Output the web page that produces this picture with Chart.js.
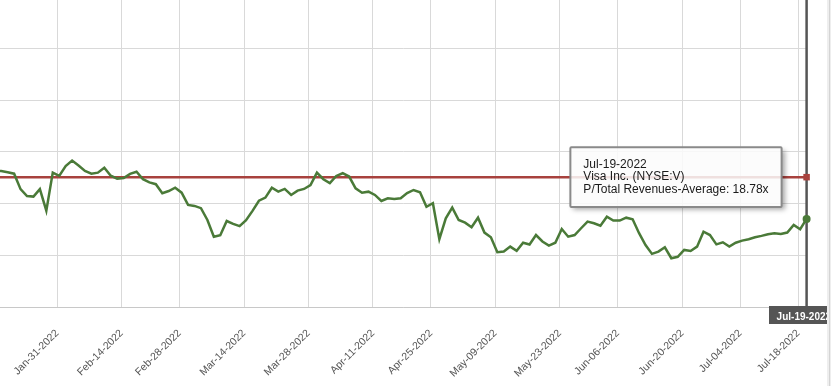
<!DOCTYPE html>
<html><head><meta charset="utf-8">
<script src="https://cdn.jsdelivr.net/npm/chart.js@4"></script>
<style>
html,body{margin:0;padding:0;background:#fff;overflow:hidden;}
#wrap{position:absolute;left:0;top:0;width:827px;height:386px;}
#sb{position:absolute;left:827px;top:0;width:4px;height:386px;background:#eeeeee;}
#sb2{position:absolute;left:829px;top:0;width:1px;height:386px;background:#d4d4d4;}
</style></head><body>
<div id="wrap"><canvas id="c"></canvas></div><div id="sb"></div><div id="sb2"></div>
<script>
// Tick labels (dates) and the trading-day index where each sits
const tickLabels = ['Jan-31-2022','Feb-14-2022','Feb-28-2022','Mar-14-2022','Mar-28-2022','Apr-11-2022',
  'Apr-25-2022','May-09-2022','May-23-2022','Jun-06-2022','Jun-20-2022','Jul-04-2022','Jul-18-2022'];
const tickIndex = [0,10,19,29,39,49,58,68,78,87,97,106,115];

// Series: P/Total Revenues, one value per trading day, first value at index startIndex
const startIndex = -10;
const values = [
  19.10,19.08,19.02,18.95,18.20,17.87,17.84,18.20,17.16,19.00,
  18.84,19.32,19.58,19.34,19.08,18.95,19.00,19.24,18.85,18.71,
  18.74,18.94,19.04,18.68,18.53,18.44,18.00,18.11,18.27,18.03,
  17.44,17.39,17.28,16.71,15.90,15.97,16.66,16.52,16.41,16.70,
  17.15,17.64,17.79,18.27,18.08,18.21,17.92,18.13,18.21,18.40,
  19.00,18.68,18.49,18.84,18.97,18.81,18.24,18.03,18.08,17.92,
  17.63,17.76,17.73,17.76,18.01,18.16,18.05,17.35,17.52,15.78,
  16.79,17.31,16.71,16.58,16.36,16.82,16.10,15.87,15.15,15.18,
  15.42,15.22,15.61,15.52,15.98,15.67,15.47,15.61,16.27,15.90,
  15.98,16.31,16.63,16.55,16.43,16.87,16.68,16.68,16.82,16.74,
  16.07,15.50,15.07,15.18,15.39,14.86,14.93,15.26,15.21,15.42,
  16.14,15.98,15.53,15.63,15.42,15.61,15.71,15.78,15.87,15.94,
  16.02,16.07,16.03,16.10,16.47,16.26,16.76
];
const averageValue = 18.78;
const yGridValues = [12.5,15,17.5,20,22.5,25];
const lastDate = 'Jul-19-2022';
const companyName = 'Visa Inc. (NYSE:V)';
const metricName = 'P/Total Revenues-Average';

const lastIndex = startIndex + values.length - 1;
const seriesPoints = values.map((v, k) => ({x: startIndex + k, y: v}));
const avgPoints = [{x: startIndex, y: averageValue}, {x: lastIndex, y: averageValue}];

const FONT = '"Liberation Sans", Arial, sans-serif';
const GREEN = '#4a7a38';
const RED = '#a8423e';

Chart.Tooltip.positioners.besidePoint = function(elements) {
  const chart = this.chart;
  const meta = chart.getDatasetMeta(0);
  const pt = meta.data[meta.data.length - 1];
  return {x: pt.x - 25, y: chart.scales.y.getPixelForValue(averageValue)};
};

const decorations = {
  id: 'decorations',
  beforeDatasetsDraw(chart) {
    const meta = chart.getDatasetMeta(0);
    const pt = meta.data[meta.data.length - 1];
    const ctx = chart.ctx;
    ctx.save();
    ctx.strokeStyle = '#555555';
    ctx.lineWidth = 2.5;
    ctx.beginPath();
    ctx.moveTo(pt.x, 0);
    ctx.lineTo(pt.x, chart.chartArea.bottom);
    ctx.stroke();
    ctx.restore();
  },
  afterDatasetsDraw(chart) {
    const meta = chart.getDatasetMeta(0);
    const pt = meta.data[meta.data.length - 1];
    const ctx = chart.ctx;
    const b = chart.chartArea.bottom;
    ctx.save();
    ctx.fillStyle = '#555555';
    ctx.fillRect(pt.x - 37.6, b - 1, 75.2, 18);
    ctx.fillStyle = '#ffffff';
    ctx.font = 'bold 10px ' + FONT;
    ctx.textBaseline = 'alphabetic';
    ctx.textAlign = 'left';
    ctx.fillText(lastDate, pt.x - 30, b + 12.5);
    ctx.restore();
  },
  beforeTooltipDraw(chart, args) {
    const t = args.tooltip;
    const ctx = chart.ctx;
    ctx.save();
    ctx.beginPath();
    ctx.rect(0, 0, chart.width, chart.height);
    ctx.rect(t.x, t.y, t.width, t.height);
    ctx.clip('evenodd');
    ctx.shadowColor = 'rgba(0,0,0,0.35)';
    ctx.shadowBlur = 5;
    ctx.shadowOffsetX = 3;
    ctx.shadowOffsetY = 3;
    ctx.fillStyle = '#ffffff';
    ctx.fillRect(t.x, t.y, t.width, t.height);
    ctx.restore();
  }
};

const chart = new Chart(document.getElementById('c'), {
  type: 'line',
  data: {
    datasets: [
      {
        data: seriesPoints,
        clip: false,
        borderColor: GREEN,
        backgroundColor: GREEN,
        borderWidth: 2.5,
        tension: 0,
        pointRadius: c => c.dataIndex === values.length - 1 ? 4 : 0,
        pointHoverRadius: c => c.dataIndex === values.length - 1 ? 4 : 0,
        pointBackgroundColor: GREEN,
        pointBorderColor: GREEN,
        pointBorderWidth: 0,
        fill: false
      },
      {
        data: avgPoints,
        clip: false,
        borderColor: RED,
        backgroundColor: RED,
        borderWidth: 2.5,
        pointStyle: 'rect',
        pointRadius: [0, 4.6],
        pointHoverRadius: [0, 4.6],
        pointBackgroundColor: RED,
        pointBorderWidth: 0,
        fill: false
      }
    ]
  },
  options: {
    responsive: true,
    maintainAspectRatio: false,
    animation: false,
    events: [],
    layout: {autoPadding: false, padding: {left: 0, right: 20.4, top: 0, bottom: 0}},
    scales: {
      x: {
        type: 'linear',
        min: -9.19,
        max: lastIndex,
        afterBuildTicks: s => { s.ticks = tickIndex.map(i => ({value: i - 0.3})); },
        afterFit: s => { s.height = 79; s.paddingLeft = 0; s.paddingRight = 0; },
        grid: {color: '#d9d9d9', lineWidth: 1, drawTicks: false},
        border: {color: '#c8c8c8', width: 1},
        ticks: {
          autoSkip: false,
          maxRotation: 45,
          minRotation: 45,
          padding: 20,
          labelOffset: 0,
          color: '#555555',
          font: {family: FONT, size: 10.5},
          callback: (v, i) => tickLabels[i]
        }
      },
      y: {
        min: 12.5,
        max: 27.35,
        afterBuildTicks: s => { s.ticks = yGridValues.map(v => ({value: v})); },
        afterFit: s => { s.width = 0; s.paddingTop = 0; s.paddingBottom = 0; },
        grid: {color: '#d9d9d9', lineWidth: 1, drawTicks: false},
        border: {display: false},
        ticks: {display: false}
      }
    },
    plugins: {
      legend: {display: false},
      tooltip: {
        enabled: true,
        position: 'besidePoint',
        xAlign: 'right',
        yAlign: 'center',
        caretSize: 0,
        caretPadding: 0,
        cornerRadius: 1,
        backgroundColor: 'rgba(252,252,252,0.85)',
        borderColor: '#8a8a8a',
        borderWidth: 2,
        padding: {x: 13, y: 11},
        displayColors: false,
        titleColor: '#1a1a1a',
        bodyColor: '#1a1a1a',
        titleFont: {family: FONT, size: 12, weight: 'normal', lineHeight: 1.05},
        bodyFont: {family: FONT, size: 12, weight: 'normal', lineHeight: 1.05},
        titleMarginBottom: 0,
        titleSpacing: 0,
        bodySpacing: 0,
        callbacks: {
          title: () => lastDate,
          label: () => [companyName, metricName + ': ' + averageValue.toFixed(2) + 'x']
        }
      }
    }
  },
  plugins: [decorations]
});

chart.tooltip.setActiveElements([{datasetIndex: 0, index: values.length - 1}], {x: 0, y: 0});
chart.update();
</script>
</body></html>
